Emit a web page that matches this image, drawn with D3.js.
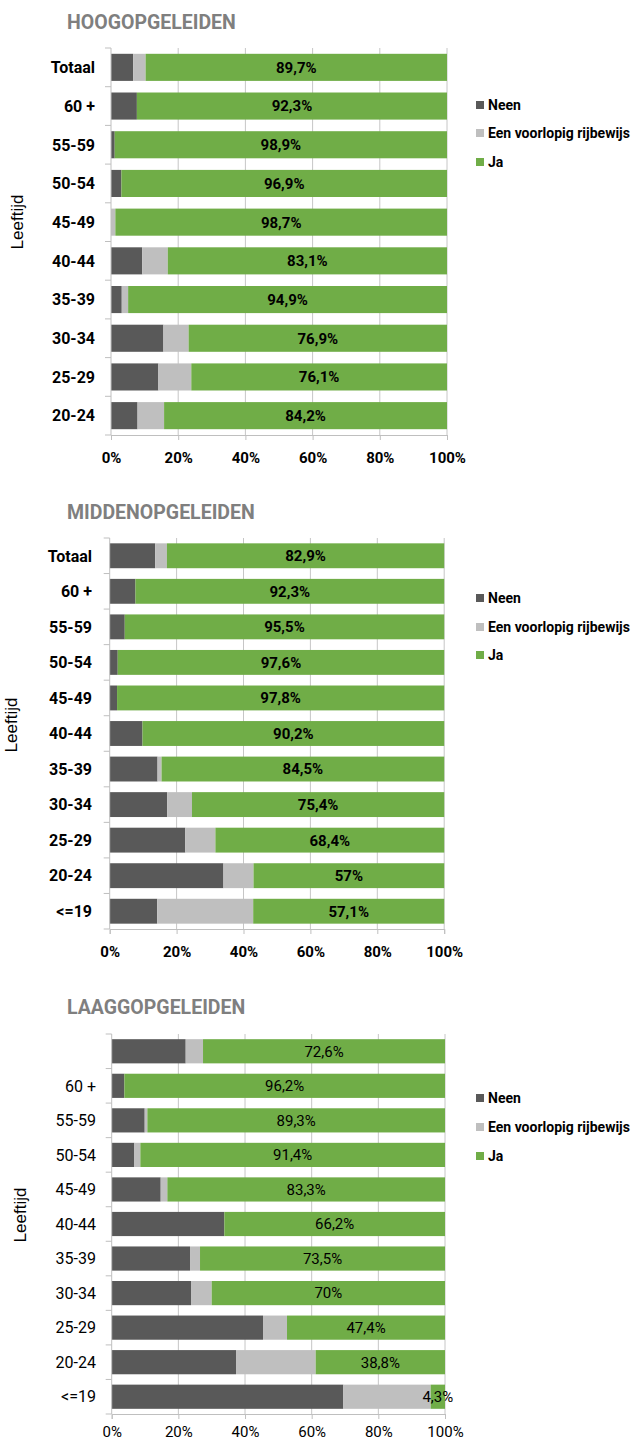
<!DOCTYPE html>
<html>
<head>
<meta charset="utf-8">
<script src="https://cdn.jsdelivr.net/npm/d3@7"></script>
<style>
  body { margin: 0; background: #fff; }
  svg { display: block; }
  .cond { font-family: Roboto, "DejaVu Sans Condensed", sans-serif; }
</style>
</head>
<body>
<script>
// Data per panel: categories top to bottom, values in percent
var hoogCats = ["Totaal", "60 +", "55-59", "50-54", "45-49", "40-44", "35-39", "30-34", "25-29", "20-24"];
var hoogNeen = [6.6, 7.7, 1.1, 3.1, 0, 9.3, 3.2, 15.6, 14.1, 7.9];
var hoogVoorlopig = [3.7, 0, 0, 0, 1.3, 7.6, 1.9, 7.5, 9.8, 7.9];
var hoogJa = [89.7, 92.3, 98.9, 96.9, 98.7, 83.1, 94.9, 76.9, 76.1, 84.2];

var middenCats = ["Totaal", "60 +", "55-59", "50-54", "45-49", "40-44", "35-39", "30-34", "25-29", "20-24", "<=19"];
var middenNeen = [13.6, 7.7, 4.5, 2.4, 2.2, 9.8, 14.3, 17.2, 22.6, 34.0, 14.2];
var middenVoorlopig = [3.5, 0, 0, 0, 0, 0, 1.2, 7.4, 9.0, 9.0, 28.7];
var middenJa = [82.9, 92.3, 95.5, 97.6, 97.8, 90.2, 84.5, 75.4, 68.4, 57, 57.1];

var laagCats = ["", "60 +", "55-59", "50-54", "45-49", "40-44", "35-39", "30-34", "25-29", "20-24", "<=19"];
var laagNeen = [22.2, 3.8, 9.9, 6.8, 14.7, 33.8, 23.5, 23.8, 45.4, 37.3, 69.5];
var laagVoorlopig = [5.2, 0, 0.8, 1.8, 2.0, 0, 3.0, 6.2, 7.2, 23.9, 26.2];
var laagJa = [72.6, 96.2, 89.3, 91.4, 83.3, 66.2, 73.5, 70, 47.4, 38.8, 4.3];

var seriesNames = ["Neen", "Een voorlopig rijbewijs", "Ja"];
var xTicks = [0, 20, 40, 60, 80, 100];

var color = d3.scaleOrdinal()
    .domain(seriesNames)
    .range(["#595959", "#bfbfbf", "#70ad47"]);

var svg = d3.select("body").append("svg")
    .attr("width", 636)
    .attr("height", 1443);

// draws one stacked 100% bar panel
function makeChart(opt) {
    var rows = opt.cats.map(function (c, i) {
        return { cat: c, Neen: opt.neen[i], "Een voorlopig rijbewijs": opt.voorlopig[i], Ja: opt.ja[i] };
    });
    var stack = d3.stack().keys(seriesNames)(rows);

    var x = d3.scaleLinear().domain([0, 100]).range([opt.x0, opt.x1]);
    var y = d3.scaleBand()
        .domain(opt.cats)
        .range([opt.top, opt.bottom])
        .paddingInner(0.3)
        .paddingOuter(0.15);

    var g = svg.append("g");
    var weight = opt.weight;

    // title
    g.append("text")
        .attr("class", "cond")
        .attr("x", 67)
        .attr("y", opt.titleY)
        .attr("font-size", "19.5px")
        .attr("font-weight", "bold")
        .attr("fill", "#7f7f7f")
        .text(opt.title);

    // vertical gridlines
    g.selectAll(".grid")
        .data(xTicks.slice(1))
        .enter().append("line")
        .attr("x1", function (d) { return x(d); })
        .attr("x2", function (d) { return x(d); })
        .attr("y1", opt.top)
        .attr("y2", opt.bottom)
        .attr("stroke", "#c6c6c6")
        .attr("stroke-width", 1);

    // bars
    g.selectAll(".serie")
        .data(stack)
        .enter().append("g")
        .attr("fill", function (d) { return color(d.key); })
        .selectAll("rect")
        .data(function (d) { return d; })
        .enter().append("rect")
        .attr("x", function (d) { return x(d[0]); })
        .attr("width", function (d) { return x(d[1]) - x(d[0]); })
        .attr("y", function (d) { return y(d.data.cat); })
        .attr("height", y.bandwidth());

    // labels for Ja
    var ja = stack[2];
    g.selectAll(".lbl")
        .data(ja)
        .enter().append("text")
        .attr("class", "cond")
        .attr("x", function (d) { return (x(d[0]) + x(d[1])) / 2; })
        .attr("y", function (d) { return y(d.data.cat) + y.bandwidth() / 2; })
        .attr("dy", "0.36em")
        .attr("text-anchor", "middle")
        .attr("font-size", "15px")
        .attr("font-weight", weight)
        .attr("fill", "#000")
        .text(function (d) { return String(d.data.Ja).replace(".", ",") + "%"; });

    // left axis line with ticks between categories
    var step = y.step();
    var bounds = opt.cats.map(function (c) { return y(c) - step * 0.15; }).concat([opt.bottom]);
    g.append("line")
        .attr("x1", opt.x0).attr("x2", opt.x0)
        .attr("y1", opt.top).attr("y2", opt.bottom)
        .attr("stroke", "#bfbfbf");
    g.selectAll(".ytick")
        .data(bounds)
        .enter().append("line")
        .attr("x1", opt.x0 - 6).attr("x2", opt.x0)
        .attr("y1", function (d) { return d; })
        .attr("y2", function (d) { return d; })
        .attr("stroke", "#bfbfbf");

    // category labels
    g.selectAll(".cat")
        .data(opt.cats)
        .enter().append("text")
        .attr("class", "cond")
        .attr("x", opt.labelRight)
        .attr("y", function (d) { return y(d) + y.bandwidth() / 2; })
        .attr("dy", "0.36em")
        .attr("text-anchor", "end")
        .attr("font-size", "16px")
        .attr("font-weight", weight)
        .text(function (d) { return d; });

    // bottom axis
    var xAxis = d3.axisBottom(x)
        .tickValues(xTicks)
        .tickFormat(function (d) { return d + "%"; })
        .tickSize(5)
        .tickPadding(opt.tickPad);
    var ax = g.append("g")
        .attr("transform", "translate(0," + opt.bottom + ")")
        .call(xAxis);
    ax.select(".domain").attr("stroke", "#bfbfbf");
    ax.selectAll(".tick line").attr("stroke", "#bfbfbf");
    ax.selectAll(".tick text")
        .attr("class", "cond")
        .attr("font-size", "15px")
        .attr("font-weight", weight)
        .attr("fill", "#000");

    // axis title
    g.append("text")
        .attr("transform", "translate(" + opt.leefX + "," + opt.leefY + ") rotate(-90)")
        .attr("text-anchor", "middle")
        .attr("dy", "0.35em")
        .attr("font-family", "Liberation Sans, Arial, sans-serif")
        .attr("font-size", "17px")
        .text("Leeftijd");

    // legend
    var legend = g.selectAll(".legend")
        .data(seriesNames)
        .enter().append("g")
        .attr("transform", function (d, i) { return "translate(476," + opt.legendY[i] + ")"; });
    legend.append("rect")
        .attr("y", -4)
        .attr("width", 8)
        .attr("height", 8)
        .attr("fill", color);
    legend.append("text")
        .attr("x", 12)
        .attr("dy", "0.36em")
        .attr("font-family", "Roboto, Arial, sans-serif")
        .attr("font-size", "14px")
        .attr("font-weight", "bold")
        .text(function (d) { return d; });
}

makeChart({
    title: "HOOGOPGELEIDEN", titleY: 29,
    cats: hoogCats, neen: hoogNeen, voorlopig: hoogVoorlopig, ja: hoogJa,
    top: 48, bottom: 435, x0: 111, x1: 447, labelRight: 95, tickPad: 12,
    legendY: [105, 133, 162], leefX: 17, leefY: 222, weight: "bold"
});

makeChart({
    title: "MIDDENOPGELEIDEN", titleY: 519,
    cats: middenCats, neen: middenNeen, voorlopig: middenVoorlopig, ja: middenJa,
    top: 538, bottom: 929, x0: 109.7, x1: 444.2, labelRight: 92, tickPad: 12,
    legendY: [598, 627, 655], leefX: 11, leefY: 725, weight: "bold"
});

makeChart({
    title: "LAAGGOPGELEIDEN", titleY: 1014,
    cats: laagCats, neen: laagNeen, voorlopig: laagVoorlopig, ja: laagJa,
    top: 1034, bottom: 1414, x0: 111.7, x1: 445, labelRight: 96, tickPad: 7,
    legendY: [1098, 1127, 1156], leefX: 20, leefY: 1215, weight: "normal"
});
</script>
</body>
</html>
